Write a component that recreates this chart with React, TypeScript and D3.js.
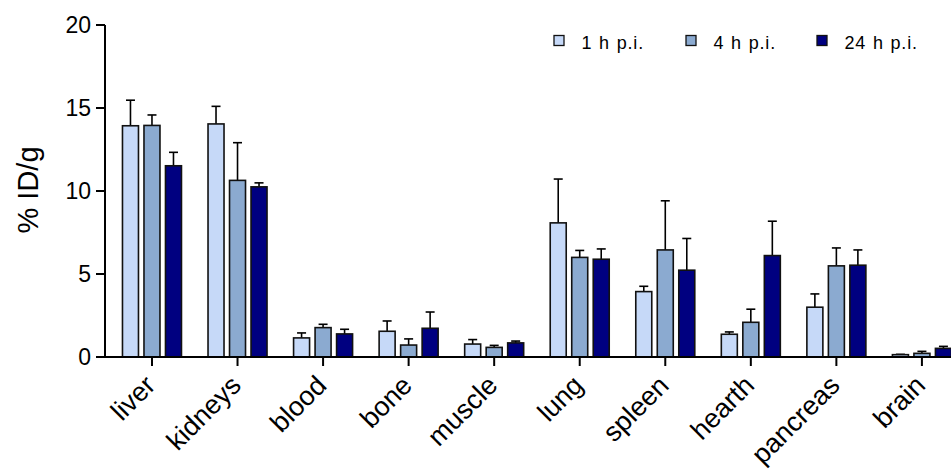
import React from "react";
import * as d3 from "d3";

const categories = ["liver", "kidneys", "blood", "bone", "muscle", "lung", "spleen", "hearth", "pancreas", "brain"];
const seriesNames = ["1 h p.i.", "4 h p.i.", "24 h p.i."];
const colors = ["#C6D9F8", "#8BAAD0", "#000080"];

// mean values, % ID/g
const h1 = [13.93, 14.04, 1.15, 1.55, 0.78, 8.08, 3.94, 1.37, 3.0, 0.14];
const h4 = [13.95, 10.64, 1.77, 0.72, 0.58, 6.0, 6.45, 2.09, 5.49, 0.22];
const h24 = [11.52, 10.25, 1.39, 1.73, 0.85, 5.89, 5.23, 6.11, 5.53, 0.52];
// upper error (SD)
const h1err = [1.54, 1.06, 0.3, 0.62, 0.27, 2.64, 0.32, 0.14, 0.8, 0.02];
const h4err = [0.63, 2.27, 0.2, 0.37, 0.12, 0.42, 2.96, 0.79, 1.08, 0.12];
const h24err = [0.81, 0.24, 0.28, 0.98, 0.11, 0.62, 1.91, 2.07, 0.92, 0.12];

const yTicks = [0, 5, 10, 15, 20];

const means = [h1, h4, h24];
const errs = [h1err, h4err, h24err];

const W = 951;
const H = 469;
const axisX = 105;
const font = "Arial, 'Liberation Sans', sans-serif";

export default function App() {
  const y = d3.scaleLinear().domain([0, 20]).range([357, 25]);
  const x0 = d3.scaleBand().domain(categories).range([109.2, 109.2 + 85.55 * categories.length]).padding(0);
  const x1 = d3.scaleBand().domain(seriesNames).range([-29.5, 29.5]).paddingInner(0.256).paddingOuter(0);
  const bw = x1.bandwidth();

  return (
    <svg width={W} height={H} style={{ position: "absolute", left: 0, top: 0, background: "#fff" }} fontFamily={font}>
      {/* bars + error bars */}
      {categories.map((c, ci) => {
        const cx = x0(c)! + x0.bandwidth() / 2;
        return (
          <g key={c} transform={`translate(${cx},0)`}>
            {seriesNames.map((s, si) => {
              const v = means[si][ci];
              const e = errs[si][ci];
              const bx = x1(s)!;
              const mid = bx + bw / 2;
              return (
                <g key={s}>
                  <line x1={mid} x2={mid} y1={y(v)} y2={y(v + e)} stroke="#000" strokeWidth={1.6} />
                  <line x1={mid - 4.5} x2={mid + 4.5} y1={y(v + e)} y2={y(v + e)} stroke="#000" strokeWidth={1.6} />
                  <rect x={bx} y={y(v)} width={bw} height={y(0) - y(v)} fill={colors[si]} stroke="#111" strokeWidth={1.6} />
                </g>
              );
            })}
          </g>
        );
      })}

      {/* y axis */}
      <line x1={axisX} x2={axisX} y1={y(20)} y2={y(0) + 1} stroke="#000" strokeWidth={2} />
      {yTicks.map((t) => (
        <g key={t} transform={`translate(0,${y(t)})`}>
          <line x1={axisX - 9} x2={axisX} stroke="#000" strokeWidth={2} />
          <text x={axisX - 14} dy="0.36em" textAnchor="end" fontSize={23} fill="#000">{t}</text>
        </g>
      ))}
      <text transform={`translate(38,${190}) rotate(-90)`} textAnchor="middle" fontSize={29} fill="#000">% ID/g</text>

      {/* x axis */}
      <line x1={axisX - 1} x2={W} y1={y(0)} y2={y(0)} stroke="#000" strokeWidth={2} />
      {categories.map((c) => {
        const cx = x0(c)! + x0.bandwidth() / 2;
        return (
          <g key={c}>
            <line x1={cx} x2={cx} y1={y(0)} y2={y(0) + 9} stroke="#000" strokeWidth={2} />
            <text transform={`translate(${cx + 5},${387}) rotate(-45)`} textAnchor="end" fontSize={27} fill="#000">{c}</text>
          </g>
        );
      })}

      {/* legend */}
      {seriesNames.map((s, i) => {
        const lx = [554, 686, 817][i];
        return (
          <g key={s}>
            <rect x={lx} y={35.5} width={10} height={10} fill={colors[i]} stroke="#111" strokeWidth={1.3} />
            <text x={lx + 27.5} y={49} fontSize={18} letterSpacing={0.8} wordSpacing={1} fill="#000">{s}</text>
          </g>
        );
      })}
    </svg>
  );
}
